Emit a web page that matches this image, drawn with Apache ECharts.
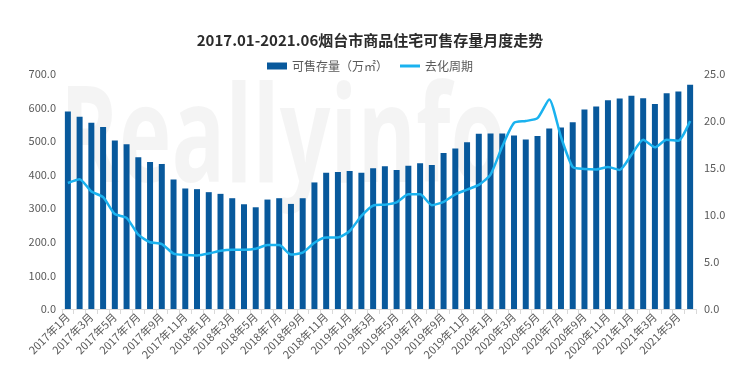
<!DOCTYPE html>
<html>
<head>
<meta charset="utf-8">
<script src="https://cdn.jsdelivr.net/npm/echarts@6/dist/echarts.min.js"></script>
<style>
html,body{margin:0;padding:0;background:#fff;}
#c{width:740px;height:380px;}
</style>
</head>
<body>
<div id="c"></div>
<script>
// Months 2017-01 .. 2021-06
const categories = [];
for (let y = 2017; y <= 2021; y++) {
  for (let m = 1; m <= 12; m++) {
    if (y === 2021 && m > 6) break;
    categories.push(y + '年' + m + '月');
  }
}
// 可售存量（万㎡）
const stockValues = [
  588, 573, 555, 542, 502, 491, 452, 438, 432, 386,
  359, 357, 348, 343, 330, 312, 303, 326, 330, 313,
  330, 377, 406, 408, 411, 406, 419, 425, 414, 427,
  434, 429, 465, 478, 497, 522, 523, 523, 517, 505,
  515, 538, 541, 556, 594, 603, 622, 627, 635, 628,
  611, 643, 648, 668
];
// 去化周期
const cycleValues = [
  13.4, 13.8, 12.5, 11.9, 10.1, 9.7, 7.9, 7.1, 6.9, 5.9,
  5.75, 5.7, 5.9, 6.2, 6.3, 6.3, 6.4, 6.8, 6.8, 5.8,
  6.0, 7.05, 7.6, 7.6, 8.3, 9.9, 11.0, 11.1, 11.35, 12.2,
  12.2, 11.05, 11.4, 12.2, 12.7, 13.2, 14.3, 17.3, 19.8, 20.0,
  20.3, 22.3, 18.3, 15.1, 14.9, 14.85, 15.1, 14.8, 16.4, 18.0,
  17.2, 18.0, 17.9, 20.0
];
const titleText = '2017.01-2021.06烟台市商品住宅可售存量月度走势';
const seriesNames = ['可售存量（万㎡）', '去化周期'];

const FONT = '"Noto Sans CJK SC", "Noto Sans", sans-serif';
const chart = echarts.init(document.getElementById('c'), null, {renderer: 'canvas'});
chart.setOption({
  backgroundColor: '#ffffff',
  animation: false,
  textStyle: {fontFamily: FONT},
  graphic: [{
    type: 'text',
    left: 60,
    top: 76,
    z: -10,
    silent: true,
    scaleX: 0.66,
    style: {
      text: 'Reallyinfo',
      font: 'bold 135px "Open Sans", sans-serif',
      fill: 'rgba(0,0,0,0.045)'
    }
  }],
  title: {
    text: titleText,
    left: 'center',
    top: 28,
    textStyle: {fontSize: 15, fontWeight: 'bold', color: '#2b2b2b', fontFamily: FONT}
  },
  legend: {
    top: 55,
    left: 'center',
    itemWidth: 20,
    itemHeight: 7,
    itemGap: 12,
    textStyle: {fontSize: 12, color: '#595959', fontFamily: FONT},
    data: [
      {name: seriesNames[0], icon: 'rect'},
      {name: seriesNames[1], icon: 'path://M0 0H20V3H0Z'}
    ]
  },
  grid: {left: 62, right: 44, top: 74, bottom: 71, containLabel: false},
  xAxis: {
    type: 'category',
    data: categories,
    axisLine: {lineStyle: {color: '#d9d9d9'}},
    axisTick: {show: true, alignWithLabel: false, interval: 0, lineStyle: {color: '#d9d9d9'}},
    axisLabel: {interval: 1, rotate: 45, fontSize: 11, color: '#595959', margin: 6, fontFamily: FONT}
  },
  yAxis: [{
    type: 'value',
    min: 0, max: 700, interval: 100,
    axisLine: {show: false},
    axisTick: {show: false},
    splitLine: {show: false},
    axisLabel: {fontSize: 11, color: '#595959', margin: 6, formatter: v => v.toFixed(1), fontFamily: FONT}
  }, {
    type: 'value',
    min: 0, max: 25, interval: 5,
    axisLine: {show: false},
    axisTick: {show: false},
    splitLine: {show: false},
    axisLabel: {fontSize: 11, color: '#595959', margin: 8, formatter: v => v.toFixed(1), fontFamily: FONT}
  }],
  series: [{
    name: seriesNames[0],
    type: 'bar',
    data: stockValues,
    barWidth: '51%',
    itemStyle: {color: '#08599c'}
  }, {
    name: seriesNames[1],
    type: 'line',
    yAxisIndex: 1,
    data: cycleValues,
    smooth: 0.2,
    symbol: 'none',
    lineStyle: {width: 2.5, color: '#1ab2ef'},
    itemStyle: {color: '#1ab2ef'}
  }]
});
</script>
</body>
</html>
